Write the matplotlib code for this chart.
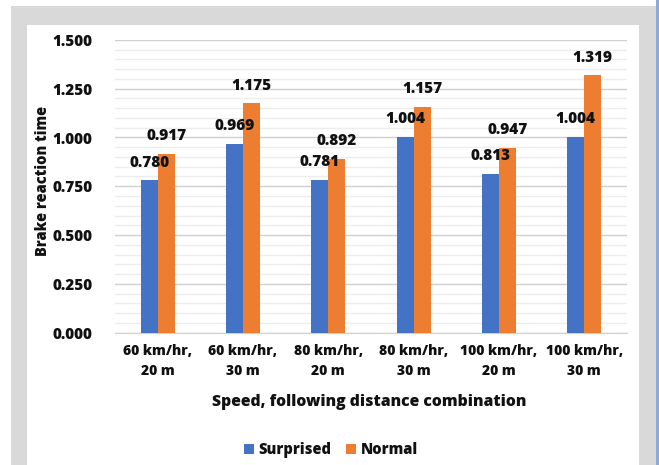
import matplotlib
matplotlib.use("Agg")
import matplotlib.pyplot as plt
from matplotlib.patches import Rectangle
from matplotlib.ticker import MultipleLocator
import numpy as np

categories = ["60 km/hr,\n20 m", "60 km/hr,\n30 m", "80 km/hr,\n20 m",
              "80 km/hr,\n30 m", "100 km/hr,\n20 m", "100 km/hr,\n30 m"]
surprised = [0.780, 0.969, 0.781, 1.004, 0.813, 1.004]
normal = [0.917, 1.175, 0.892, 1.157, 0.947, 1.319]
series_names = ["Surprised", "Normal"]
y_ticks = [0.0, 0.25, 0.5, 0.75, 1.0, 1.25, 1.5]

BLUE = "#4472C4"
ORANGE = "#ED7D31"
FONT = "Open Sans"
TXT = "#111111"
WEIGHT = 800

plt.rcParams["font.family"] = [FONT, "DejaVu Sans"]

W, H = 659, 465
fig = plt.figure(figsize=(W / 100, H / 100), dpi=100)

def px_rect(x0, y0, x1, y1, color, z):
    fig.patches.append(Rectangle((x0 / W, 1 - y1 / H), (x1 - x0) / W, (y1 - y0) / H,
                                 transform=fig.transFigure, facecolor=color,
                                 edgecolor="none", zorder=z))

# Gray frame with white chart panel, and a thin blue strip on the right edge
px_rect(11, 6, 656, 465, "#D9D9D9", -3)
px_rect(27, 25, 639, 465, "white", -2)
px_rect(656, 0, 659, 465, "#8EA9DB", -3)

ax = fig.add_axes([115 / W, 1 - 332.5 / H, (627 - 115) / W, (332.5 - 40) / H])
ax.set_facecolor("none")

x = np.arange(len(categories))
bw = 0.2
b1 = ax.bar(x - bw / 2, surprised, bw, color=BLUE, label=series_names[0], zorder=3)
b2 = ax.bar(x + bw / 2, normal, bw, color=ORANGE, label=series_names[1], zorder=3)

for bars, vals in ((b1, surprised), (b2, normal)):
    for rect, v in zip(bars, vals):
        ax.annotate(f"{v:.3f}", (rect.get_x() + rect.get_width() / 2, v),
                    xytext=(0, 7), textcoords="offset points", ha="center",
                    va="bottom", fontsize=11, fontweight=WEIGHT, color=TXT)

ax.set_xlim(-0.5, len(categories) - 0.5)
ax.set_ylim(0, 1.5)
ax.set_yticks(y_ticks)
ax.set_yticklabels([f"{t:.3f}" for t in y_ticks])
ax.yaxis.set_minor_locator(MultipleLocator(0.05))
ax.grid(axis="y", which="major", color="#D0D0D0", linewidth=1.0, zorder=0)
ax.grid(axis="y", which="minor", color="#EDEDED", linewidth=1.0, zorder=0)
ax.set_axisbelow(True)

ax.set_xticks(x)
ax.set_xticklabels(categories, linespacing=1.6)
for sp in ["top", "right", "left"]:
    ax.spines[sp].set_visible(False)
ax.spines["bottom"].set_color("#D0D0D0")
ax.tick_params(axis="both", which="both", length=0)
ax.tick_params(axis="y", pad=16, labelsize=11)
ax.tick_params(axis="x", pad=8, labelsize=10)
for lbl in ax.get_xticklabels() + ax.get_yticklabels():
    lbl.set_fontweight(WEIGHT)
    lbl.set_color(TXT)

fig.text(43 / W, 1 - 181 / H, "Brake reaction time", rotation=90, ha="center",
         va="center", fontsize=10.5, fontweight=WEIGHT, color=TXT)
fig.text(369 / W, 1 - 402 / H, "Speed, following distance combination",
         ha="center", va="center", fontsize=11.3, fontweight=WEIGHT, color=TXT)

leg = fig.legend(handles=[b1, b2], labels=series_names, loc="center",
                 bbox_to_anchor=(331 / W, 1 - 450 / H), ncol=2, frameon=False,
                 handlelength=0.7, handleheight=0.7, handletextpad=0.3,
                 columnspacing=1.0, prop={"weight": WEIGHT, "size": 10.5})
for t in leg.get_texts():
    t.set_color(TXT)

fig.savefig("out.png", dpi=100)
